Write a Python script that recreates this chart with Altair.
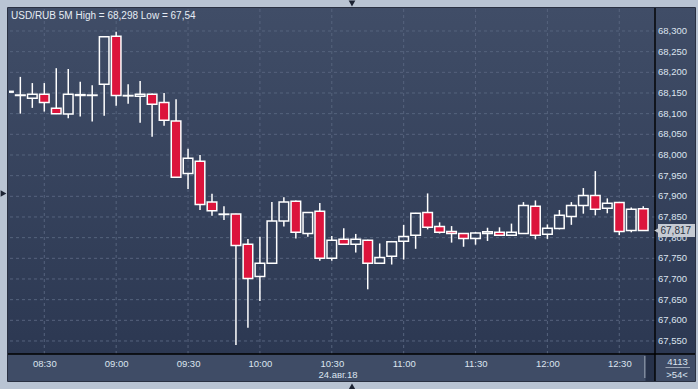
import altair as alt
import pandas as pd

# ---------------- data ----------------
times = ["08:15", "08:20", "08:25", "08:30", "08:35", "08:40", "08:45", "08:50", "08:55",
         "09:00", "09:05", "09:10", "09:15", "09:20", "09:25", "09:30", "09:35", "09:40",
         "09:45", "09:50", "09:55", "10:00", "10:05", "10:10", "10:15", "10:20", "10:25",
         "10:30", "10:35", "10:40", "10:45", "10:50", "10:55", "11:00", "11:05", "11:10",
         "11:15", "11:20", "11:25", "11:30", "11:35", "11:40", "11:45", "11:50", "11:55",
         "12:00", "12:05", "12:10", "12:15", "12:20", "12:25", "12:30", "12:35", "12:40"]
opens = [68.152, 68.144, 68.137, 68.147, 68.113, 68.099, 68.144, 68.144, 68.171,
         68.287, 68.143, 68.142, 68.147, 68.127, 68.082, 67.955, 67.985, 67.886,
         67.856, 67.857, 67.784, 67.706, 67.738, 67.840, 67.888, 67.810, 67.864,
         67.750, 67.796, 67.784, 67.794, 67.738, 67.755, 67.791, 67.806, 67.861,
         67.827, 67.815, 67.810, 67.798, 67.810, 67.813, 67.806, 67.810, 67.876,
         67.808, 67.822, 67.851, 67.878, 67.902, 67.871, 67.885, 67.817, 67.870]
highs = [68.155, 68.189, 68.174, 68.174, 68.210, 68.208, 68.177, 68.169, 68.287,
         68.298, 68.171, 68.179, 68.149, 68.150, 68.135, 68.015, 68.000, 67.906,
         67.876, 67.858, 67.797, 67.802, 67.886, 67.898, 67.890, 67.862, 67.884,
         67.804, 67.823, 67.809, 67.795, 67.786, 67.792, 67.831, 67.860, 67.907,
         67.837, 67.828, 67.811, 67.813, 67.824, 67.825, 67.834, 67.886, 67.890,
         67.832, 67.867, 67.886, 67.920, 67.961, 67.895, 67.886, 67.873, 67.876]
lows = [68.151, 68.100, 68.114, 68.105, 68.099, 68.089, 68.093, 68.081, 68.095,
        68.119, 68.124, 68.078, 68.044, 68.071, 67.945, 67.918, 67.867, 67.853,
        67.843, 67.540, 67.582, 67.647, 67.737, 67.827, 67.798, 67.802, 67.744,
        67.744, 67.783, 67.764, 67.675, 67.737, 67.735, 67.747, 67.773, 67.820,
        67.810, 67.788, 67.778, 67.783, 67.792, 67.804, 67.805, 67.809, 67.796,
        67.797, 67.820, 67.831, 67.858, 67.854, 67.859, 67.806, 67.813, 67.816]
closes = [68.154, 68.145, 68.147, 68.127, 68.100, 68.147, 68.146, 68.145, 68.286,
          68.144, 68.144, 68.147, 68.123, 68.084, 67.946, 67.992, 67.880, 67.865,
          67.857, 67.781, 67.701, 67.738, 67.840, 67.886, 67.813, 67.861, 67.750,
          67.794, 67.784, 67.796, 67.738, 67.752, 67.790, 67.803, 67.859, 67.825,
          67.813, 67.810, 67.798, 67.811, 67.814, 67.806, 67.813, 67.878, 67.806,
          67.823, 67.854, 67.878, 67.902, 67.869, 67.883, 67.815, 67.869, 67.817]

x_tick_labels = ["08:30", "09:00", "09:30", "10:00", "10:30", "11:00", "11:30", "12:00", "12:30"]
y_tick_values = [67.55, 67.60, 67.65, 67.70, 67.75, 67.80, 67.85, 67.90,
                 67.95, 68.00, 68.05, 68.10, 68.15, 68.20, 68.25, 68.30]

title_text = "USD/RUB 5M High = 68,298 Low = 67,54"
date_text = "24.авг.18"
bars_total_text = "4113"
bars_visible_text = ">54<"

# ---------------- styling ----------------
FONT = "Liberation Sans"
FRAME = "#b9c4d3"
RED = "#dc143c"
LABEL = "#dce4ef"
GRID = "#56637d"
TAG = "#c6cbd3"


def to_min(s):
    h, m = s.split(":")
    return int(h) * 60 + int(m)


def comma(v):
    return f"{v:.3f}".replace(".", ",")


df = pd.DataFrame({"time": times, "open": opens, "high": highs, "low": lows, "close": closes})
df["t"] = df["time"].map(to_min)
df["x_lo"] = df["t"] - 2.0
df["x_hi"] = df["t"] + 2.0
df["up"] = df["close"] >= df["open"]
df["btop"] = df[["open", "close"]].max(axis=1)
df["bbot"] = df[["open", "close"]].min(axis=1)
df["fillc"] = df["up"].map({True: "transparent", False: RED})

wick_up = pd.DataFrame({"t": df["t"], "w1": df["btop"], "w2": df["high"]})
wick_dn = pd.DataFrame({"t": df["t"], "w1": df["low"], "w2": df["bbot"]})
wicks = pd.concat([wick_up, wick_dn], ignore_index=True)

xgrid = pd.DataFrame({"t": [to_min(s) for s in x_tick_labels]})
ygrid = pd.DataFrame({"v": y_tick_values, "lab": [comma(v) for v in y_tick_values]})

last = df.iloc[[-1]].copy()
last["label"] = last["close"].map(comma)

W, H = 646, 345
xs = alt.Scale(domain=[495.27, 764.91], nice=False, zero=False)
ys = alt.Scale(domain=[67.5185, 68.3532], nice=False, zero=False)

x_axis = alt.Axis(orient="bottom", values=[to_min(s) for s in x_tick_labels],
                  labelExpr="pad(floor(datum.value/60), 2, '0', 'left') + ':' + pad(datum.value % 60, 2, '0', 'left')",
                  domain=False, ticks=False, grid=False, title=None, labelPadding=4,
                  labelColor=LABEL, labelFont=FONT, labelFontSize=9.5, labelFlush=False,
                  labelOverlap=False, zindex=1)

one = pd.DataFrame({"k": [0]})

grad = alt.LinearGradient(gradient="linear",
                          stops=[alt.GradientStop(offset=0, color="#404d67"),
                                 alt.GradientStop(offset=1, color="#2c3852")],
                          x1=0, x2=0, y1=0, y2=1)

panel = alt.Chart(one).mark_rect(fill=grad).encode(
    x=alt.value(-1), x2=alt.value(687), y=alt.value(-1), y2=alt.value(H))
bottom_panel = alt.Chart(one).mark_rect(fill="#3f4c66").encode(
    x=alt.value(-1), x2=alt.value(687), y=alt.value(H), y2=alt.value(H + 27))
scroll_dark = alt.Chart(one).mark_rect(fill="#27324a").encode(
    x=alt.value(636.5), x2=alt.value(646), y=alt.value(H), y2=alt.value(H + 27))
scroll_line = alt.Chart(one).mark_rule(color="#8e99aa", strokeWidth=1.2).encode(
    x=alt.value(635.8), y=alt.value(H + 2), y2=alt.value(H + 24))

vgrid = alt.Chart(xgrid).mark_rule(color=GRID, strokeDash=[3, 3], strokeWidth=1).encode(
    x=alt.X("t:Q", scale=xs, axis=x_axis))
hgrid = alt.Chart(ygrid).mark_rule(color=GRID, strokeDash=[3, 3], strokeWidth=1).encode(
    y=alt.Y("v:Q", scale=ys, axis=None))
ylabels = alt.Chart(ygrid).mark_text(align="left", baseline="middle", font=FONT,
                                     fontSize=9.5, color=LABEL).encode(
    x=alt.value(W + 3), y=alt.Y("v:Q", scale=ys, axis=None), text="lab:N")

wick_layer = alt.Chart(wicks).mark_rule(color="white", strokeWidth=1.5, clip=True).encode(
    x=alt.X("t:Q", scale=xs, axis=x_axis),
    y=alt.Y("w1:Q", scale=ys, axis=None), y2="w2:Q")

bodies = alt.Chart(df).mark_rect(stroke="white", strokeWidth=1.5, clip=True).encode(
    x=alt.X("x_lo:Q", scale=xs, axis=x_axis), x2="x_hi:Q",
    y=alt.Y("bbot:Q", scale=ys, axis=None), y2="btop:Q",
    fill=alt.Fill("fillc:N", scale=None))

hline = alt.Chart(one).mark_rule(color="black", strokeWidth=1.4).encode(
    x=alt.value(-1), x2=alt.value(687), y=alt.value(H))
vline = alt.Chart(one).mark_rule(color="black", strokeWidth=1.4).encode(
    x=alt.value(W), y=alt.value(-1), y2=alt.value(H + 27))

tag_rect = alt.Chart(last).mark_rect(fill=TAG, yOffset=-6.5, y2Offset=6.5).encode(
    x=alt.value(649), x2=alt.value(687),
    y=alt.Y("close:Q", scale=ys, axis=None), y2="close:Q")
tag_ptr = alt.Chart(last).mark_point(shape="triangle-left", filled=True, size=40,
                                     color=TAG, opacity=1).encode(
    x=alt.value(648), y=alt.Y("close:Q", scale=ys, axis=None))
tag_text = alt.Chart(last).mark_text(align="left", baseline="middle", font=FONT,
                                     fontSize=10, color="#2b3242").encode(
    x=alt.value(651.5), y=alt.Y("close:Q", scale=ys, axis=None), text="label:N")


def label(txt, x, y, align="left", size=10, color=LABEL):
    return alt.Chart(pd.DataFrame({"label": [txt]})).mark_text(
        align=align, baseline="middle", font=FONT, fontSize=size, color=color).encode(
        x=alt.value(x), y=alt.value(y), text="label:N")


title_layer = label(title_text, 2, 6.5, size=10, color="#e6ecf4")
date_layer = label(date_text, 329, 365.5, align="center", size=9.5)
total_layer = label(bars_total_text, 668.5, 353, align="center", size=9.5)
visible_layer = label(bars_visible_text, 668, 365.5, align="center", size=9.5)
sep_rule = alt.Chart(one).mark_rule(color="#9aa5b5", strokeWidth=1).encode(
    x=alt.value(656.5), x2=alt.value(681), y=alt.value(358.5))

tri_top = alt.Chart(one).mark_point(shape="triangle-down", filled=True, size=45,
                                    color="#1c2333", opacity=1).encode(
    x=alt.value(343), y=alt.value(-5.5))
tri_left = alt.Chart(one).mark_point(shape="triangle-right", filled=True, size=45,
                                     color="#1c2333", opacity=1).encode(
    x=alt.value(-5.5), y=alt.value(184.5))
tri_bot = alt.Chart(one).mark_point(shape="triangle-up", filled=True, size=45,
                                    color="#1c2333", opacity=1).encode(
    x=alt.value(343), y=alt.value(377.5))

border = alt.Chart(one).mark_rect(fill="transparent", stroke="#2a3142", strokeWidth=1).encode(
    x=alt.value(-1.5), x2=alt.value(686.5), y=alt.value(-1.5), y2=alt.value(H + 27.5))

chart = alt.layer(
    panel, bottom_panel, scroll_dark, scroll_line,
    vgrid, hgrid, ylabels, wick_layer, bodies,
    hline, vline, tag_rect, tag_ptr, tag_text,
    title_layer, date_layer, total_layer, visible_layer, sep_rule,
    tri_top, tri_left, tri_bot, border
).properties(
    width=W, height=H,
    padding={"left": 9, "top": 9, "right": 43, "bottom": 35},
    autosize=alt.AutoSizeParams(type="none"),
    background=FRAME,
).configure_view(stroke=None)

chart.save("out.html", embed_options={"renderer": "svg", "actions": False})
